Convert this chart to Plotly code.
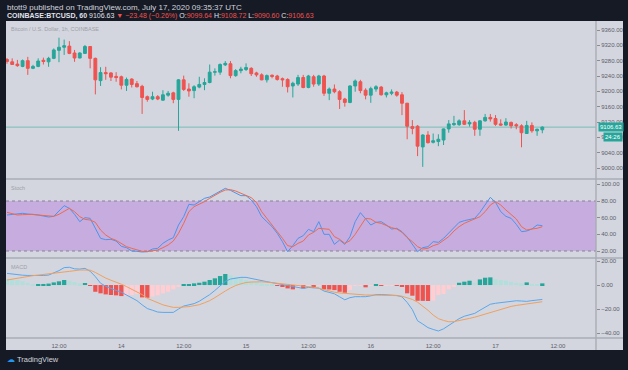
import plotly.graph_objects as go
import pandas as pd

# ---------------- DATA ----------------
open_ = [9283, 9277, 9271, 9265, 9280, 9260, 9265, 9281, 9277, 9286,
         9307, 9315, 9318, 9300, 9287, 9299, 9317, 9286, 9228, 9249,
         9248, 9239, 9238, 9216, 9232, 9220, 9213, 9186, 9180, 9186,
         9177, 9190, 9196, 9179, 9230, 9206, 9202, 9211, 9218, 9223,
         9250, 9250, 9269, 9272, 9241, 9254, 9257, 9260, 9248, 9243,
         9230, 9242, 9240, 9233, 9231, 9214, 9219, 9236, 9210, 9238,
         9219, 9240, 9195, 9206, 9199, 9180, 9171, 9214, 9225, 9203,
         9190, 9206, 9211, 9191, 9195, 9198, 9191, 9169, 9108, 9109,
         9055, 9086, 9067, 9069, 9073, 9102, 9113, 9113, 9123, 9115,
         9119, 9101, 9123, 9132, 9129, 9115, 9112, 9119, 9113, 9110,
         9090, 9111, 9097, 9099.64]
high = [9287, 9286, 9282, 9283, 9290, 9269, 9286, 9288, 9290, 9312,
        9340, 9335, 9331, 9308, 9302, 9321, 9318, 9288, 9263, 9264,
        9250, 9250, 9241, 9236, 9234, 9227, 9217, 9189, 9199, 9190,
        9203, 9201, 9199, 9232, 9241, 9221, 9216, 9238, 9234, 9270,
        9260, 9273, 9279, 9279, 9258, 9264, 9273, 9263, 9251, 9247,
        9244, 9244, 9243, 9236, 9234, 9225, 9243, 9243, 9243, 9243,
        9243, 9243, 9210, 9218, 9203, 9183, 9216, 9231, 9230, 9208,
        9212, 9216, 9214, 9199, 9205, 9201, 9198, 9170, 9125, 9112,
        9088, 9096, 9090, 9088, 9103, 9125, 9136, 9127, 9151, 9125,
        9123, 9125, 9141, 9141, 9138, 9127, 9130, 9121, 9117, 9114,
        9123, 9119, 9103, 9108.72]
low = [9272, 9269, 9264, 9263, 9243, 9258, 9263, 9270, 9264, 9284,
       9276, 9295, 9297, 9277, 9286, 9298, 9260, 9192, 9214, 9230,
       9227, 9225, 9205, 9201, 9210, 9210, 9141, 9173, 9177, 9177,
       9175, 9186, 9169, 9097, 9201, 9186, 9182, 9208, 9203, 9221,
       9241, 9243, 9266, 9234, 9238, 9247, 9253, 9240, 9238, 9229,
       9223, 9234, 9228, 9212, 9197, 9184, 9214, 9208, 9208, 9212,
       9214, 9188, 9177, 9195, 9154, 9160, 9169, 9199, 9195, 9179,
       9170, 9199, 9189, 9184, 9190, 9186, 9138, 9075, 9088, 9031,
       9003, 9064, 9064, 9057, 9060, 9092, 9110, 9110, 9112, 9108,
       9084, 9084, 9121, 9121, 9110, 9110, 9110, 9103, 9101, 9054,
       9089, 9092, 9084, 9090.60]
close = [9278, 9270, 9267, 9280, 9260, 9265, 9279, 9278, 9286, 9308,
         9315, 9319, 9299, 9287, 9300, 9317, 9286, 9230, 9249, 9246,
         9237, 9236, 9216, 9231, 9218, 9212, 9184, 9179, 9186, 9180,
         9191, 9195, 9179, 9230, 9205, 9201, 9212, 9218, 9223, 9250,
         9251, 9270, 9273, 9241, 9254, 9258, 9262, 9246, 9243, 9230,
         9241, 9239, 9231, 9230, 9212, 9221, 9236, 9210, 9240, 9219,
         9240, 9195, 9206, 9199, 9179, 9171, 9214, 9227, 9202, 9190,
         9207, 9212, 9191, 9196, 9198, 9190, 9169, 9109, 9103, 9057,
         9086, 9066, 9071, 9075, 9102, 9115, 9116, 9123, 9114, 9119,
         9101, 9123, 9132, 9128, 9114, 9112, 9120, 9110, 9110, 9092,
         9111, 9097, 9101, 9106.63]

stoch_k = [63.2, 63.6, 64.0, 65.2, 64.4, 64.0, 63.2, 62.0, 60.8, 61.6,
           68.0, 74.4, 71.2, 64.0, 55.2, 60.0, 59.2, 47.2, 35.2, 33.6,
           34.0, 32.0, 25.6, 24.0, 20.0, 19.6, 18.8, 19.2, 22.4, 23.2,
           29.2, 33.2, 36.0, 51.2, 61.2, 76.0, 75.2, 79.2, 83.2, 84.8,
           88.0, 91.2, 95.2, 92.8, 89.2, 86.4, 86.4, 81.2, 73.2, 61.2,
           55.2, 49.2, 41.2, 31.2, 19.2, 26.4, 35.2, 38.4, 46.0, 43.2,
           55.2, 40.0, 40.0, 28.0, 33.2, 28.0, 37.2, 55.2, 66.0, 59.2,
           51.2, 54.4, 55.2, 51.2, 46.4, 47.2, 43.2, 36.8, 27.2, 19.2,
           24.0, 25.2, 31.2, 30.4, 35.2, 41.2, 48.0, 54.4, 56.4, 58.0,
           59.2, 66.4, 76.0, 84.4, 78.4, 67.2, 61.6, 59.2, 52.0, 43.2,
           44.0, 46.4, 51.2, 50.4]
stoch_d = [66.4, 64.8, 63.2, 63.6, 64.0, 64.0, 63.2, 62.4, 61.6, 61.6,
           64.0, 68.0, 71.2, 67.2, 61.2, 58.0, 57.2, 54.4, 45.2, 39.2,
           35.2, 32.8, 29.2, 25.2, 23.2, 21.2, 19.6, 19.2, 20.0, 21.2,
           24.0, 27.2, 32.0, 41.2, 53.2, 67.2, 73.2, 76.0, 79.2, 83.2,
           87.2, 90.4, 93.2, 93.6, 92.0, 89.2, 86.4, 84.0, 78.4, 67.2,
           59.2, 51.2, 44.0, 35.2, 26.4, 25.2, 29.2, 32.0, 39.2, 42.4,
           47.2, 46.4, 46.0, 37.2, 34.0, 29.2, 32.4, 40.0, 49.2, 59.2,
           58.4, 54.4, 53.2, 50.4, 48.0, 46.4, 42.4, 36.0, 31.2, 25.2,
           22.4, 23.2, 26.4, 28.4, 32.4, 37.2, 44.0, 49.2, 53.2, 56.0,
           58.0, 61.2, 67.2, 75.2, 79.2, 75.2, 69.2, 63.2, 58.4, 49.2,
           45.2, 46.4, 47.2, 49.2]

macd = [9.7, 9.0, 8.5, 8.2, 8.0, 7.8, 7.9, 8.0, 8.3, 10.0,
        12.0, 14.5, 14.8, 13.5, 13.3, 13.9, 11.5, 7.0, 1.5, -1.0,
        -3.0, -4.5, -6.0, -8.3, -10.5, -13.0, -16.5, -19.6, -21.0, -22.5,
        -22.8, -22.8, -22.8, -20.0, -17.5, -16.5, -15.5, -13.5, -11.0, -8.0,
        -4.5, -1.0, 3.0, 5.0, 6.0, 6.4, 6.4, 5.5, 4.0, 3.4,
        2.8, 2.0, 1.2, 0.2, -0.8, -1.8, -2.6, -2.8, -2.0, -2.2,
        -2.6, -5.0, -6.3, -7.3, -9.8, -12.3, -10.5, -9.7, -9.7, -9.7,
        -9.0, -8.0, -7.9, -8.1, -8.4, -8.7, -9.8, -14.5, -20.5, -29.8,
        -32.5, -35.5, -37.0, -38.3, -36.5, -33.5, -30.5, -28.0, -26.0, -24.5,
        -23.6, -21.0, -18.2, -16.0, -15.2, -14.7, -13.7, -13.1, -13.1, -13.3,
        -13.6, -13.0, -12.5, -12.0]
signal = [4.2, 5.0, 5.7, 6.6, 7.2, 7.8, 8.3, 8.7, 9.1, 9.6,
          10.3, 10.9, 11.4, 12.0, 12.5, 12.5, 12.4, 10.5, 8.0, 5.8,
          4.0, 2.5, 0.7, -1.3, -3.5, -5.4, -8.0, -11.1, -13.0, -14.8,
          -16.5, -17.6, -18.6, -18.6, -18.6, -18.0, -17.2, -16.4, -14.8, -13.0,
          -10.5, -7.5, -5.0, -2.5, -0.4, 1.0, 2.1, 2.5, 2.8, 2.7,
          2.4, 2.0, 1.6, 1.2, 0.8, 0.2, -0.4, -0.8, -1.3, -1.8,
          -2.6, -3.8, -5.2, -6.0, -6.6, -7.0, -7.4, -7.8, -8.0, -8.3,
          -8.3, -8.3, -8.4, -8.5, -8.7, -8.8, -9.3, -10.5, -12.0, -14.3,
          -17.5, -21.0, -25.0, -28.0, -29.5, -30.6, -30.5, -29.8, -28.8, -27.8,
          -26.8, -25.5, -24.0, -22.7, -21.5, -20.3, -19.0, -17.8, -17.0, -16.3,
          -15.8, -15.2, -14.5, -13.9]
hist = [5.0, 4.7, 4.2, 3.3, 1.9, 0.6, 0.8, 0.9, 1.2, 2.2,
        3.1, 4.2, 3.6, 2.5, 1.4, 1.7, -0.6, -5.6, -6.9, -7.8,
        -8.3, -8.6, -9.2, -8.9, -8.3, -7.5, -10.3, -10.6, -9.7, -8.6,
        -6.9, -5.6, -3.6, -1.4, 0.5, 0.8, 1.4, 1.9, 2.8, 4.2,
        5.6, 7.5, 9.2, 8.3, 6.9, 5.6, 4.2, 3.3, 2.5, 1.4,
        0.8, 0.3, -0.8, -1.4, -2.8, -3.6, -1.4, -2.8, -0.8, -2.5,
        -0.6, -3.6, -3.7, -4.2, -5.6, -6.4, -4.2, -0.8, -0.3, -1.9,
        -0.6, 0.4, -0.4, -0.3, -0.2, -0.8, -1.4, -6.9, -8.9, -13.1,
        -13.2, -13.3, -13.0, -8.3, -7.5, -3.6, -1.4, 1.9, 2.8, 3.6,
        1.9, 4.7, 6.1, 6.4, 4.7, 4.2, 3.6, 2.8, 1.9, 1.4,
        2.2, 0.8, 0.6, 1.4]

price_ticks = [9000, 9040, 9080, 9120, 9160, 9200, 9240, 9280, 9320, 9360]
stoch_ticks = [20, 40, 60, 80, 100]
macd_ticks = [-40, -20, 0, 20]
time_tick_vals = ["2020-07-13 12:00", "2020-07-14 00:00", "2020-07-14 12:00",
                  "2020-07-15 00:00", "2020-07-15 12:00", "2020-07-16 00:00",
                  "2020-07-16 12:00", "2020-07-17 00:00", "2020-07-17 12:00"]
time_tick_text = ["12:00", "14", "12:00", "15", "12:00", "16", "12:00", "17", "12:00"]

times = pd.date_range("2020-07-13 02:00", periods=len(close), freq="h")

# ---------------- STYLE ----------------
W, H = 628, 370
def fx(px): return px / W
def fy(px): return 1 - px / H

DARK = "#161a25"
PANEL = "#d3d6de"
SEP = "#a9acb4"
AXTXT = "#5d606b"
UP, DOWN = "#26a69a", "#ef5350"
UP_L, DOWN_L = "#b2dfdb", "#ffcdd2"
FONT = "Liberation Sans"

hist_colors = []
for k, h in enumerate(hist):
    prev = hist[k - 1] if k > 0 else h
    if h >= 0:
        hist_colors.append(UP if h > prev else UP_L)
    else:
        hist_colors.append(DOWN if h < prev else DOWN_L)

fig = go.Figure()
fig.add_trace(go.Candlestick(
    x=times, open=open_, high=high, low=low, close=close,
    increasing=dict(line=dict(color=UP, width=1), fillcolor=UP),
    decreasing=dict(line=dict(color=DOWN, width=1), fillcolor=DOWN),
    whiskerwidth=0, xaxis="x", yaxis="y", showlegend=False, hoverinfo="skip"))

fig.add_trace(go.Scatter(x=times, y=stoch_k, mode="lines",
                         line=dict(color="#4d94ec", width=1),
                         xaxis="x2", yaxis="y2", showlegend=False))
fig.add_trace(go.Scatter(x=times, y=stoch_d, mode="lines",
                         line=dict(color="#ee6a50", width=1),
                         xaxis="x2", yaxis="y2", showlegend=False))

fig.add_trace(go.Bar(x=times, y=hist, marker=dict(color=hist_colors, line=dict(width=0)),
                     xaxis="x3", yaxis="y3", showlegend=False))
fig.add_trace(go.Scatter(x=times, y=macd, mode="lines",
                         line=dict(color="#5aa7ee", width=1),
                         xaxis="x3", yaxis="y3", showlegend=False))
fig.add_trace(go.Scatter(x=times, y=signal, mode="lines",
                         line=dict(color="#f0a060", width=1),
                         xaxis="x3", yaxis="y3", showlegend=False))

xrange = ["2020-07-13 01:48:27", "2020-07-17 19:20:00"]
xdom = [fx(6), fx(596)]
base_x = dict(domain=xdom, range=xrange, showgrid=False, zeroline=False,
              showline=False, type="date")
yax = dict(side="right", showgrid=False, zeroline=False, showline=False,
           ticks="outside", ticklen=3, tickcolor="#8a8d96", tickwidth=1,
           tickformat=".2f", tickfont=dict(family=FONT, size=6, color=AXTXT))

fig.update_layout(
    width=W, height=H, margin=dict(l=0, r=0, t=0, b=0),
    paper_bgcolor=DARK, plot_bgcolor="rgba(0,0,0,0)",
    bargap=0.18, boxgap=0.22,
    xaxis=dict(base_x, anchor="y", showticklabels=False,
               rangeslider=dict(visible=False)),
    xaxis2=dict(base_x, anchor="y2", matches="x", showticklabels=False),
    xaxis3=dict(base_x, anchor="y3", matches="x", tickvals=time_tick_vals,
                ticktext=time_tick_text, ticks="outside", ticklen=3,
                tickcolor="rgba(0,0,0,0)",
                tickfont=dict(family=FONT, size=6, color=AXTXT)),
    yaxis=dict(yax, domain=[fy(178), fy(22)], range=[8973.9, 9380.9],
               tickvals=price_ticks, anchor="x"),
    yaxis2=dict(yax, domain=[fy(257), fy(180)], range=[12.8, 105.2],
                tickvals=stoch_ticks, anchor="x2"),
    yaxis3=dict(yax, domain=[fy(337), fy(259)], range=[-43.3, 21.7],
                tickvals=macd_ticks, anchor="x3"),
)

shapes = [
    dict(type="rect", xref="paper", yref="paper", x0=fx(6), x1=fx(623),
         y0=fy(350), y1=fy(21), fillcolor=PANEL, line=dict(width=0), layer="below"),
    dict(type="rect", xref="x2 domain", yref="y2", x0=0, x1=1, y0=20, y1=80,
         fillcolor="#c6acdf", line=dict(width=0), layer="below"),
    dict(type="line", xref="x2 domain", yref="y2", x0=0, x1=1, y0=80, y1=80,
         line=dict(color="#8a8296", width=1, dash="dot"), layer="below"),
    dict(type="line", xref="x2 domain", yref="y2", x0=0, x1=1, y0=20, y1=20,
         line=dict(color="#8a8296", width=1, dash="dot"), layer="below"),
    dict(type="line", xref="x domain", yref="y", x0=0, x1=1,
         y0=close[-1], y1=close[-1], line=dict(color="#78bdb6", width=1), layer="below"),
]
for ypx in (179, 258, 338):
    shapes.append(dict(type="line", xref="paper", yref="paper", x0=fx(6), x1=fx(623),
                       y0=fy(ypx), y1=fy(ypx), line=dict(color=SEP, width=1.6)))
shapes.append(dict(type="line", xref="paper", yref="paper", x0=fx(596), x1=fx(596),
                   y0=fy(350), y1=fy(21), line=dict(color=SEP, width=1.4)))
fig.update_layout(shapes=shapes)

RED = "#ef5350"
hdr2 = ("<b>COINBASE:BTCUSD, 60</b> 9106.63 "
        f"<span style='color:{RED}'>▼ −23.48 (−0.26%)</span> "
        f"O:<span style='color:{RED}'>9099.64</span> "
        f"H:<span style='color:{RED}'>9108.72</span> "
        f"L:<span style='color:{RED}'>9090.60</span> "
        f"C:<span style='color:{RED}'>9106.63</span>")
ann = [
    dict(text="btott9 published on TradingView.com, July 17, 2020 09:35:37 UTC",
         x=fx(5), y=fy(7), font=dict(family=FONT, size=8, color="#d1d4dc")),
    dict(text=hdr2, x=fx(5), y=fy(15.5), font=dict(family=FONT, size=7, color="#e0e3eb")),
    dict(text="Bitcoin / U.S. Dollar, 1h, COINBASE", x=fx(9), y=fy(29.5),
         font=dict(family=FONT, size=5.5, color="#9ea1a9")),
    dict(text="Stoch", x=fx(9), y=fy(187.5), font=dict(family=FONT, size=5.5, color="#9ea1a9")),
    dict(text="MACD", x=fx(9), y=fy(267), font=dict(family=FONT, size=5.5, color="#9ea1a9")),
    dict(text="<span style='color:#2196f3'>☁</span> TradingView", x=fx(5), y=fy(359),
         font=dict(family=FONT, size=7.5, color="#d1d4dc")),
]
for a in ann:
    a.update(xref="paper", yref="paper", xanchor="left", yanchor="middle", showarrow=False)
ann.append(dict(text="9106.63", xref="paper", yref="y", x=fx(597.5), y=close[-1],
                xanchor="left", yanchor="middle", showarrow=False, bgcolor=UP,
                borderpad=1, font=dict(family=FONT, size=6, color="white")))
ann.append(dict(text="24:26", xref="paper", yref="paper", x=fx(622.5), y=fy(137),
                xanchor="right", yanchor="middle", showarrow=False, bgcolor=UP,
                borderpad=1, font=dict(family=FONT, size=6, color="white")))
fig.update_layout(annotations=ann)

fig.write_html("out.html", config={"displayModeBar": False},
               post_script="document.body.style.margin='0';document.body.style.padding='0';"
                           "document.body.style.overflow='hidden';")
